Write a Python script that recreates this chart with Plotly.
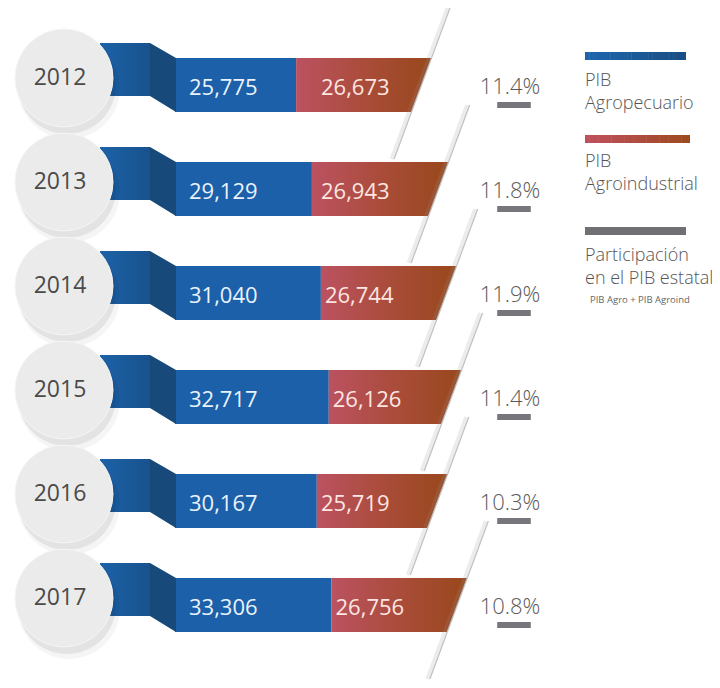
import plotly.graph_objects as go

# ---------------- data ----------------
years = ["2012", "2013", "2014", "2015", "2016", "2017"]
pib_agropecuario = [25775, 29129, 31040, 32717, 30167, 33306]
pib_agroindustrial = [26673, 26943, 26744, 26126, 25719, 26756]
participacion = [11.4, 11.8, 11.9, 11.4, 10.3, 10.8]

legend_labels = ["PIB<br>Agropecuario", "PIB<br>Agroindustrial",
                 "Participación<br>en el PIB estatal"]
legend_note = "PIB Agro + PIB Agroind"

# ---------------- geometry helpers (layout only) ----------------
PAGE_W, PAGE_H = 720, 688
OFF = 8                      # default body margin of the html page
W, H = PAGE_W - OFF, PAGE_H - OFF
K = 0.0047                   # pixels per value unit
X0 = 175                     # page pixel where value 0 sits
ROW0, ROWH = 85, 104         # page pixel of first row centre, row pitch
FONT = "Open Sans"


def vx(px):
    return (px - X0) / K


def dv(dpx):
    return dpx / K


def dr(dpy):
    return dpy / ROWH


def pxp(px):
    return (px - OFF) / W


def pyp(py):
    return 1 - (py - OFF) / H


idx = list(range(len(years)))
totals = [a + b for a, b in zip(pib_agropecuario, pib_agroindustrial)]
half = dr(27)
slant = dv(10)

fig = go.Figure()

# folded ribbon start (decoration)
for i in idx:
    fig.add_trace(go.Scatter(
        x=[vx(100), vx(150), vx(150), vx(100), vx(100)],
        y=[i + dr(-42), i + dr(-42), i + dr(11), i + dr(11), i + dr(-42)],
        fill="toself", mode="lines", line=dict(width=0, color="rgba(0,0,0,0)"),
        fillgradient=dict(type="horizontal",
                          colorscale=[[0, "#1d62a8"], [1, "#18528c"]]),
        hoverinfo="skip"))
    fig.add_trace(go.Scatter(
        x=[vx(150), vx(176), vx(176), vx(150), vx(150)],
        y=[i + dr(-42), i - half, i + half, i + dr(11), i + dr(-42)],
        fill="toself", mode="lines", line=dict(width=0, color="rgba(0,0,0,0)"),
        fillcolor="#174a7a", hoverinfo="skip"))

# circle shadows and circles
for (ox, oy), op, sz in [((5, 10), 0.04, 102), ((3, 7), 0.07, 98)]:
    fig.add_trace(go.Scatter(
        x=[vx(64 + ox)] * len(idx), y=[i + dr(-7 + oy) for i in idx],
        mode="markers", marker=dict(size=sz, color=f"rgba(0,0,0,{op})", line=dict(width=0)),
        hoverinfo="skip"))
fig.add_trace(go.Scatter(
    x=[vx(64)] * len(idx), y=[i + dr(-7) for i in idx], mode="markers",
    marker=dict(size=98, color="#ebebeb", line=dict(width=1, color="#f5f5f5")),
    hoverinfo="skip"))
fig.add_trace(go.Scatter(
    x=[vx(60)] * len(idx), y=[i + dr(-6) for i in idx], mode="text",
    text=years, textposition="middle center",
    textfont=dict(family=FONT, size=23, color="#4a4a4a"), hoverinfo="skip"))

# PIB Agropecuario bars
fig.add_trace(go.Bar(
    y=idx, x=pib_agropecuario, base=0, orientation="h", width=2 * half,
    marker=dict(color="#1b60a8", line=dict(width=0)), hoverinfo="skip"))

# PIB Agroindustrial segments (with slanted end)
for i in idx:
    b, t = pib_agropecuario[i], totals[i]
    fig.add_trace(go.Scatter(
        x=[b, t + slant, t - slant, b, b],
        y=[i - half, i - half, i + half, i + half, i - half],
        fill="toself", mode="lines", line=dict(width=0, color="rgba(0,0,0,0)"),
        fillgradient=dict(type="horizontal",
                          colorscale=[[0, "#bb5261"], [0.5, "#aa4c3a"], [1, "#98481c"]]),
        hoverinfo="skip"))

# diagonal folds through bar ends
sx, sy, lx, ly = [], [], [], []
for i in idx:
    t = totals[i]
    top, bot = -(27 + 57), (27 + 47)
    lx += [t - 0.37 * top / K, t - 0.37 * bot / K, None]
    ly += [i + dr(top), i + dr(bot), None]
    sx += [t - 0.37 * top / K - dv(2.5), t - 0.37 * bot / K - dv(2.5), None]
    sy += [i + dr(top), i + dr(bot), None]
fig.add_trace(go.Scatter(x=sx, y=sy, mode="lines",
                         line=dict(color="rgba(150,150,150,0.18)", width=4),
                         hoverinfo="skip"))
fig.add_trace(go.Scatter(x=lx, y=ly, mode="lines",
                         line=dict(color="#c0c0c0", width=1.2), hoverinfo="skip"))

# value labels
fig.add_trace(go.Scatter(
    x=[vx(189)] * len(idx), y=[i + dr(4) for i in idx], mode="text",
    text=[f"{v:,}" for v in pib_agropecuario], textposition="middle right",
    textfont=dict(family=FONT, size=22, color="#eaf2fc"), hoverinfo="skip"))
fig.add_trace(go.Scatter(
    x=[max(b + dv(4), vx(321)) for b in pib_agropecuario], y=[i + dr(4) for i in idx],
    mode="text", text=[f"{v:,}" for v in pib_agroindustrial],
    textposition="middle right",
    textfont=dict(family=FONT, size=22, color="#fde6e2"), hoverinfo="skip"))

# participation labels and dashes
fig.add_trace(go.Scatter(
    x=[vx(510)] * len(idx), y=[i + dr(3) for i in idx], mode="text",
    text=[f"{p:.1f}%" for p in participacion], textposition="middle center",
    textfont=dict(family=FONT, size=22, color="#5a5a5a", weight=300),
    hoverinfo="skip"))
fig.add_trace(go.Scatter(
    x=[vx(514)] * len(idx), y=[i + dr(20) for i in idx], mode="markers",
    marker=dict(symbol="line-ew", size=24, line=dict(width=6, color="#76767c")),
    hoverinfo="skip"))

# ---------------- legend (decoration) ----------------
shapes = []


def px_rect(x0, y0, x1, y1, color):
    return dict(type="rect", xref="paper", yref="paper", x0=pxp(x0), x1=pxp(x1),
                y0=pyp(y1), y1=pyp(y0), fillcolor=color, line=dict(width=0),
                layer="above")


def grad_rect(x0, y0, x1, y1, c0, c1, n=24):
    out = []
    for k in range(n):
        f = k / (n - 1)
        c = tuple(int(round(c0[j] + (c1[j] - c0[j]) * f)) for j in range(3))
        xa = x0 + (x1 - x0) * k / n
        xb = x0 + (x1 - x0) * (k + 1) / n + 0.5
        out.append(px_rect(xa, y0, min(xb, x1), y1, "rgb(%d,%d,%d)" % c))
    return out


shapes += grad_rect(585, 52, 686, 60, (29, 102, 175), (26, 78, 132))
shapes += grad_rect(585, 135, 690, 143, (192, 80, 94), (156, 74, 32))
shapes.append(px_rect(585, 227, 686, 235, "#707074"))

annotations = []
for text, ycen in zip(legend_labels, [90, 171, 265]):
    annotations.append(dict(
        text=text, xref="paper", yref="paper", x=pxp(583), y=pyp(ycen),
        xanchor="left", yanchor="middle", align="left", showarrow=False,
        font=dict(family=FONT, size=18, color="#555555", weight=300)))
annotations.append(dict(
    text=legend_note, xref="paper", yref="paper", x=pxp(588), y=pyp(299),
    xanchor="left", yanchor="middle", showarrow=False,
    font=dict(family=FONT, size=9.5, color="#666666")))

fig.update_layout(
    width=W, height=H, margin=dict(l=0, r=0, t=0, b=0),
    paper_bgcolor="white", plot_bgcolor="white", showlegend=False,
    xaxis=dict(range=[vx(OFF), vx(PAGE_W)], visible=False, fixedrange=True),
    yaxis=dict(range=[(PAGE_H - ROW0) / ROWH, (OFF - ROW0) / ROWH],
               visible=False, fixedrange=True),
    shapes=shapes, annotations=annotations,
)

fig.write_html("out.html")
